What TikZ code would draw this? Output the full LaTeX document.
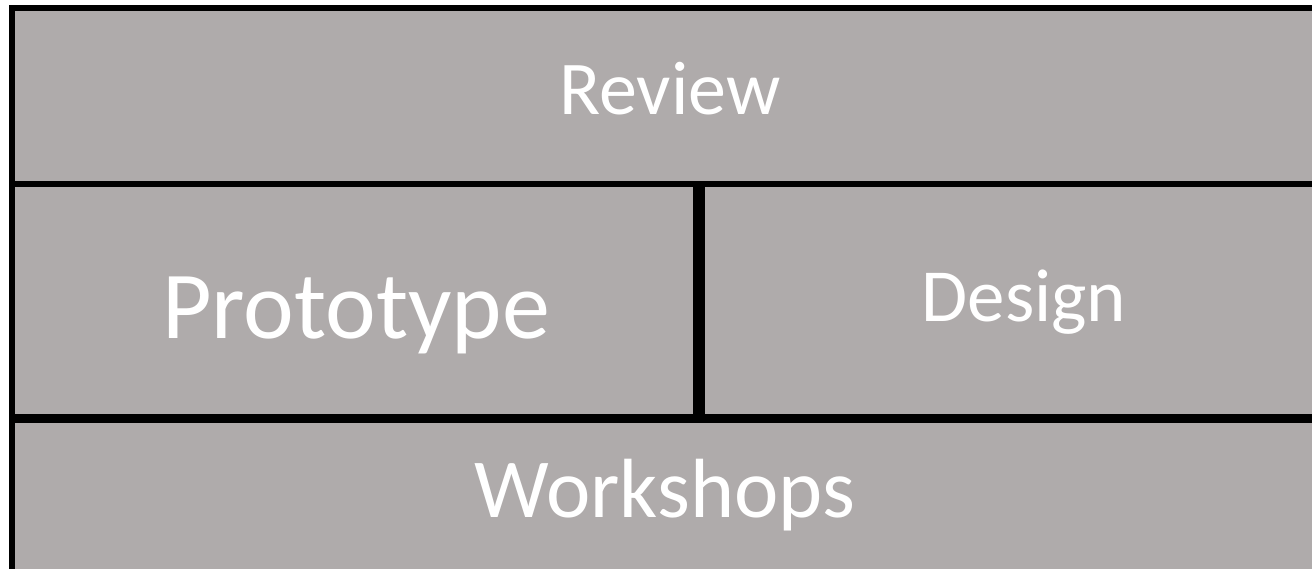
\documentclass[tikz,border=0pt]{standalone}
\usepackage{fontspec}
\setmainfont{Carlito}
\definecolor{boxgray}{HTML}{AFABAB}
\begin{document}
\begin{tikzpicture}[x=1pt,y=-1pt,
  lbl/.style={text=white, inner sep=0pt, anchor=base}]
\useasboundingbox (0,0) rectangle (1312,569);
\clip (0,0) rectangle (1312,569);
\coordinate (tl) at (12,8);
\coordinate (tr) at (1330,184.5);
\coordinate (ml1) at (12,184.5);
\coordinate (ml2) at (696,417);
\coordinate (mr1) at (701.5,184.5);
\coordinate (mr2) at (1350,417);
\coordinate (bl1) at (12,420);
\coordinate (bl2) at (1330,580);
\fill[boxgray] (tl) rectangle (tr);
\fill[boxgray] (ml1) rectangle (ml2);
\fill[boxgray] (mr1) rectangle (mr2);
\fill[boxgray] (bl1) rectangle (bl2);
\draw[line width=6pt] (tl) rectangle (tr);
\draw[line width=6pt] (ml1) rectangle (ml2);
\draw[line width=6pt] (mr1) rectangle (mr2);
\draw[line width=6pt] (bl1) rectangle (bl2);
\node[lbl, font=\fontsize{76}{80}\selectfont] (review) at (670,115) {Review};
\node[lbl, font=\fontsize{96}{104}\selectfont] (prototype) at (356,338) {Prototype};
\node[lbl, font=\fontsize{75}{80}\selectfont] (design) at (1024,322) {Design};
\node[lbl, font=\fontsize{84}{90}\selectfont] (workshops) at (665,517) {Workshops};
\end{tikzpicture}
\end{document}
